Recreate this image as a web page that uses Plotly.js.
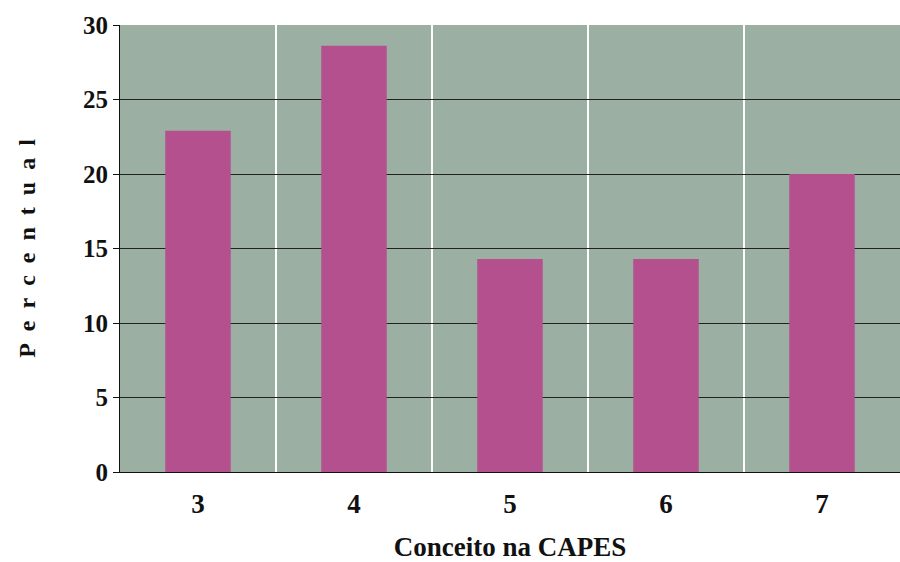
<!DOCTYPE html>
<html>
<head>
<meta charset="utf-8">
<script src="https://cdn.plot.ly/plotly-3.0.1.min.js"></script>
<style>body{margin:0;background:#fff}</style>
</head>
<body>
<div id="chart" style="width:900px;height:562px"></div>
<script>
const categories = ['3', '4', '5', '6', '7'];
const percentual = [22.9, 28.6, 14.3, 14.3, 20.0];

const separators = [];
for (let i = 0; i < categories.length - 1; i++) {
    separators.push({
        type: 'line', xref: 'x', yref: 'paper',
        x0: i + 0.5, x1: i + 0.5, y0: 0, y1: 1,
        line: {color: '#ffffff', width: 2}, layer: 'below'
    });
}

const fam = 'Liberation Serif, Times New Roman, serif';

Plotly.newPlot('chart', [{
    type: 'bar',
    x: categories,
    y: percentual,
    width: 0.42,
    marker: {color: '#b5508f'}
}], {
    width: 900, height: 562,
    margin: {l: 120, r: 0, t: 25, b: 90},
    paper_bgcolor: '#fff',
    plot_bgcolor: '#9bb0a3',
    font: {family: fam, color: '#111'},
    showlegend: false,
    xaxis: {
        type: 'category',
        showgrid: false,
        showline: true, linecolor: '#111', linewidth: 1,
        ticks: 'outside', ticklen: 8, tickcolor: 'rgba(0,0,0,0)',
        tickfont: {family: fam, size: 27, color: '#111', weight: 'bold'},
        title: {text: '<b>Conceito na CAPES</b>', font: {family: fam, size: 27, color: '#111'}, standoff: 26}
    },
    yaxis: {
        range: [0, 30],
        dtick: 5,
        showgrid: true, gridcolor: '#222', gridwidth: 1,
        showline: true, linecolor: '#111', linewidth: 1,
        ticks: 'outside', ticklen: 6, tickcolor: '#111',
        tickfont: {family: fam, size: 25, color: '#111', weight: 'bold'},
        title: {text: '<b>P&nbsp; e&nbsp; r&nbsp; c&nbsp; e&nbsp; n&nbsp; t&nbsp; u&nbsp; a&nbsp; l</b>', font: {family: fam, size: 24, color: '#111'}, standoff: 40}
    },
    shapes: separators
}, {displayModeBar: false});
</script>
</body>
</html>
